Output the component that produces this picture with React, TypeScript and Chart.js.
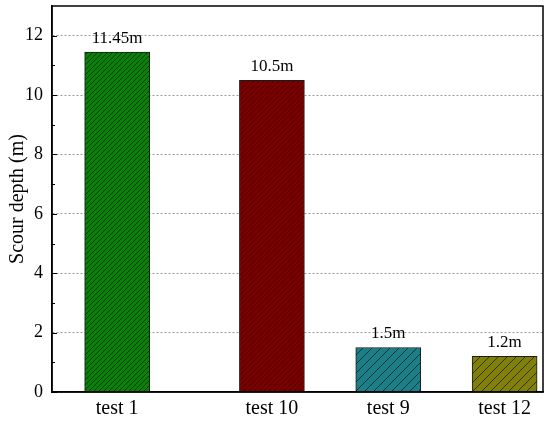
import React, { useEffect, useRef } from "react";
import { Chart, registerables } from "chart.js";

Chart.register(...registerables);

const categories = ["test 1", "test 10", "test 9", "test 12"];
const xValues = [1, 2.33, 3.33, 4.33];
const depths = [11.45, 10.5, 1.5, 1.2];
const valueLabels = ["11.45m", "10.5m", "1.5m", "1.2m"];
const yTicks = [0, 2, 4, 6, 8, 10, 12];
const minorTicks = [1, 3, 5, 7, 9, 11];

const fillColors = ["#0a800a", "#7a0000", "#1a7f86", "#80800a"];
const hatchColors = ["#023a02", "#4a0000", "#0a2a2a", "#2a2a00"];
const hatchSpacing = [5, 5, 9, 9];

function makePattern(bg: string, line: string, s: number) {
  const c = document.createElement("canvas");
  c.width = s;
  c.height = s;
  const g = c.getContext("2d")!;
  g.fillStyle = bg;
  g.fillRect(0, 0, s, s);
  g.strokeStyle = line;
  g.lineWidth = 0.9;
  g.beginPath();
  g.moveTo(0, s);
  g.lineTo(s, 0);
  g.moveTo(-s, s);
  g.lineTo(s, -s);
  g.moveTo(0, 2 * s);
  g.lineTo(2 * s, 0);
  g.stroke();
  return g.createPattern(c, "repeat")!;
}

export default function App() {
  const ref = useRef<HTMLCanvasElement>(null);
  useEffect(() => {
    document.body.style.margin = "0";
    const ctx = ref.current!.getContext("2d")!;
    const patterns = fillColors.map((c, i) => makePattern(c, hatchColors[i], hatchSpacing[i]));
    const font = "'Liberation Serif', 'Times New Roman', serif";

    const extras = {
      id: "extras",
      afterDraw(chart: any) {
        const { ctx: c, chartArea: a, scales } = chart;
        const y = scales.y;
        c.save();
        c.strokeStyle = "#000";
        c.lineWidth = 1.5;
        c.setLineDash([]);
        c.strokeRect(a.left, a.top, a.right - a.left, a.bottom - a.top);
        c.lineWidth = 1.2;
        c.beginPath();
        yTicks.forEach((v) => {
          const py = Math.round(y.getPixelForValue(v)) + 0.5;
          c.moveTo(a.left, py);
          c.lineTo(a.left + 5, py);
        });
        minorTicks.forEach((v) => {
          const py = Math.round(y.getPixelForValue(v)) + 0.5;
          c.moveTo(a.left, py);
          c.lineTo(a.left + 3, py);
        });
        c.stroke();
        const meta = chart.getDatasetMeta(0);
        c.fillStyle = "#000";
        c.font = `17px ${font}`;
        c.textAlign = "center";
        c.textBaseline = "bottom";
        meta.data.forEach((el: any, i: number) => {
          c.fillText(valueLabels[i], el.x, el.y - 5);
        });
        c.restore();
      },
    };

    const chart = new Chart(ctx, {
      type: "bar",
      data: {
        datasets: [
          {
            data: xValues.map((x, i) => ({ x, y: depths[i] })),
            backgroundColor: patterns,
            borderColor: "#1a1a1a",
            borderWidth: 1,
            barThickness: 65,
          },
        ],
      },
      options: {
        animation: false,
        responsive: false,
        maintainAspectRatio: false,
        layout: { padding: { top: 6, right: 7, left: 0, bottom: 0 } },
        plugins: { legend: { display: false }, tooltip: { enabled: false } },
        scales: {
          x: {
            type: "linear",
            min: 0.44,
            max: 4.66,
            offset: false,
            grid: { display: false, drawTicks: false },
            border: { color: "#000", width: 1.5 },
            afterBuildTicks: (s: any) => {
              s.ticks = xValues.map((v) => ({ value: v }));
            },
            afterFit: (s: any) => {
              s.height = 30;
              s.paddingLeft = 0;
              s.paddingRight = 0;
            },
            ticks: {
              color: "#000",
              font: { family: font, size: 20 },
              padding: 5,
              autoSkip: false,
              maxRotation: 0,
              callback: (v: any) => {
                const i = xValues.indexOf(v);
                return i >= 0 ? categories[i] : "";
              },
            },
          },
          y: {
            min: 0,
            max: 13,
            afterBuildTicks: (s: any) => {
              s.ticks = yTicks.map((v) => ({ value: v }));
            },
            afterFit: (s: any) => {
              s.width = 52;
              s.paddingTop = 0;
              s.paddingBottom = 0;
            },
            grid: {
              color: "#9a9a9a",
              lineWidth: 1,
              drawTicks: false,
            },
            border: { color: "#000", width: 1.5, dash: [2, 2] },
            ticks: {
              color: "#000",
              font: { family: font, size: 18 },
              padding: 9,
            },
            title: {
              display: true,
              text: "Scour depth (m)",
              color: "#000",
              font: { family: font, size: 20 },
              padding: { top: 6, bottom: 0 },
            },
          },
        },
      },
      plugins: [extras],
    } as any);
    return () => chart.destroy();
  }, []);
  return (
    <div style={{ width: 550, height: 422 }}>
      <canvas ref={ref} width={550} height={422} />
    </div>
  );
}
